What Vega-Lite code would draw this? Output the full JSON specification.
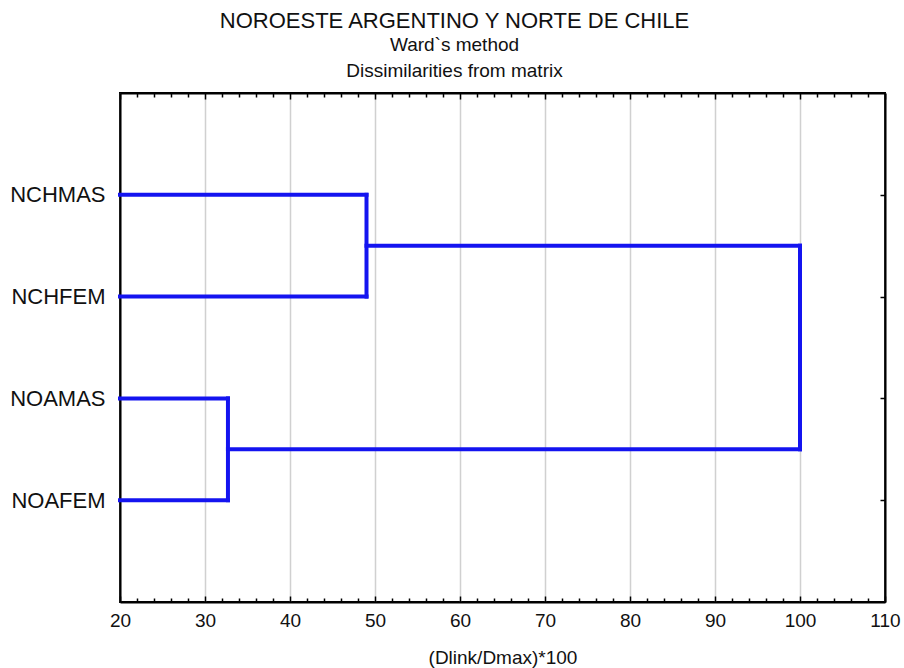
{
  "$schema": "https://vega.github.io/schema/vega-lite/v6.json",
  "width": 765,
  "height": 509,
  "autosize": {"type": "none"},
  "padding": {"left": 120, "top": 93, "right": 19, "bottom": 66},
  "background": "white",
  "title": {
    "text": "NOROESTE ARGENTINO Y NORTE DE CHILE",
    "subtitle": ["Ward`s method", "Dissimilarities from matrix"],
    "anchor": "middle",
    "dx": -48,
    "font": "Liberation Sans",
    "fontSize": 22,
    "fontWeight": "normal",
    "color": "#111",
    "subtitleFont": "Liberation Sans",
    "subtitleFontSize": 19,
    "subtitleColor": "#111",
    "subtitleLineHeight": 26,
    "subtitlePadding": 3,
    "offset": 10
  },
  "config": {
    "view": {"stroke": "#000", "strokeWidth": 2},
    "axis": {"labelFont": "Liberation Sans", "titleFont": "Liberation Sans", "labelColor": "#111", "titleColor": "#111", "domainColor": "#000", "tickColor": "#000"}
  },
  "data": {
    "values": [
      {"x": 20, "x2": 49, "y": 4, "y2": 4},
      {"x": 20, "x2": 49, "y": 3, "y2": 3},
      {"x": 49, "x2": 49, "y": 3, "y2": 4},
      {"x": 20, "x2": 32.7, "y": 2, "y2": 2},
      {"x": 20, "x2": 32.7, "y": 1, "y2": 1},
      {"x": 32.7, "x2": 32.7, "y": 1, "y2": 2},
      {"x": 49, "x2": 100, "y": 3.5, "y2": 3.5},
      {"x": 32.7, "x2": 100, "y": 1.5, "y2": 1.5},
      {"x": 100, "x2": 100, "y": 1.5, "y2": 3.5}
    ]
  },
  "layer": [
    {
      "mark": {"type": "rule", "color": "#1414f0", "strokeWidth": 4, "strokeCap": "square"},
      "encoding": {
        "x": {
          "field": "x", "type": "quantitative",
          "scale": {"domain": [20, 110], "nice": false, "zero": false},
          "axis": {
            "orient": "bottom",
            "values": [20,22,24,26,28,30,32,34,36,38,40,42,44,46,48,50,52,54,56,58,60,62,64,66,68,70,72,74,76,78,80,82,84,86,88,90,92,94,96,98,100,102,104,106,108,110],
            "labelExpr": "datum.value % 10 === 0 ? datum.label : ''",
            "labelFontSize": 19,
            "labelPadding": 15,
            "labelFlush": false,
            "labelOverlap": false,
            "domainWidth": 2,
            "tickSize": {"condition": {"test": "datum.value % 10 === 0", "value": -6}, "value": -4},
            "tickWidth": 1.5,
            "grid": true,
            "gridColor": "#d0d0d0",
            "gridWidth": 1.5,
            "gridOpacity": {"condition": {"test": "datum.value % 10 === 0", "value": 1}, "value": 0},
            "title": "(Dlink/Dmax)*100",
            "titleFontSize": 19,
            "titleFontWeight": "normal",
            "titlePadding": 16
          }
        },
        "x2": {"field": "x2"},
        "y": {
          "field": "y", "type": "quantitative",
          "scale": {"domain": [0, 5], "nice": false, "zero": false},
          "axis": {
            "orient": "left",
            "values": [1, 2, 3, 4],
            "labelExpr": "datum.value === 4 ? 'NCHMAS' : datum.value === 3 ? 'NCHFEM' : datum.value === 2 ? 'NOAMAS' : 'NOAFEM'",
            "labelFontSize": 22,
            "labelPadding": 15,
            "ticks": false,
            "grid": false,
            "domainWidth": 2,
            "title": null
          }
        },
        "y2": {"field": "y2"}
      }
    },
    {
      "mark": {"type": "rule", "strokeOpacity": 0},
      "encoding": {
        "x": {
          "field": "x", "type": "quantitative",
          "axis": {
            "orient": "top",
            "values": [20,22,24,26,28,30,32,34,36,38,40,42,44,46,48,50,52,54,56,58,60,62,64,66,68,70,72,74,76,78,80,82,84,86,88,90,92,94,96,98,100,102,104,106,108,110],
            "labels": false,
            "grid": false,
            "domainWidth": 2,
            "tickSize": {"condition": {"test": "datum.value % 10 === 0", "value": -6}, "value": -4},
            "tickWidth": 1.5,
            "title": null
          }
        },
        "x2": {"field": "x2"},
        "y": {
          "field": "y", "type": "quantitative",
          "axis": {
            "orient": "right",
            "values": [1, 2, 3, 4],
            "labels": false,
            "grid": false,
            "domainWidth": 2,
            "tickSize": -5,
            "tickWidth": 1.5,
            "title": null
          }
        },
        "y2": {"field": "y2"}
      }
    }
  ],
  "resolve": {"axis": {"x": "independent", "y": "independent"}}
}
